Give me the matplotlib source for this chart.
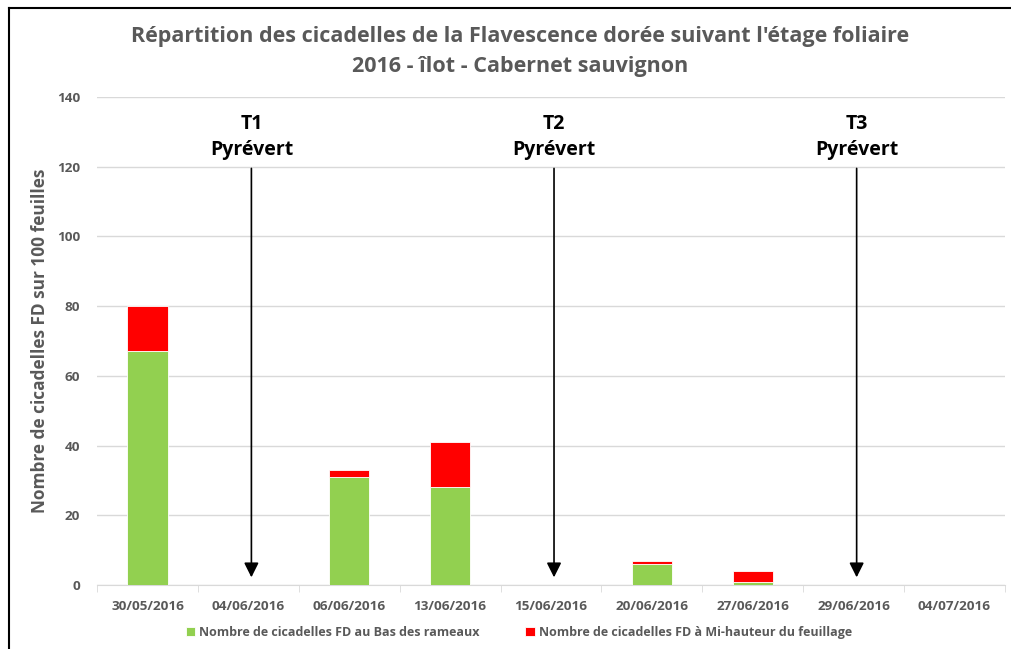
import matplotlib
matplotlib.use('Agg')
import matplotlib.pyplot as plt
import numpy as np
from matplotlib.lines import Line2D

plt.rcParams['font.family'] = ['Open Sans', 'DejaVu Sans']

dates = ['30/05/2016', '04/06/2016', '06/06/2016', '13/06/2016', '15/06/2016',
         '20/06/2016', '27/06/2016', '29/06/2016', '04/07/2016']
bas = [67, 0, 31, 28, 0, 6, 1, 0, 0]
mi_hauteur = [13, 0, 2, 13, 0, 1, 3, 0, 0]
treatments = ['T1\nPyrévert', 'T2\nPyrévert', 'T3\nPyrévert']
treat_idx = [1, 4, 7]

gray = '#595959'
green = '#92d050'
red = '#ff0000'

fig = plt.figure(figsize=(10.11, 6.49), dpi=100)
ax = fig.add_axes([0.096, 0.0986, 0.898, 0.752])

x = np.arange(len(dates))
ax.bar(x, bas, width=0.4, color=green, edgecolor='white', linewidth=0.6,
       label='Nombre de cicadelles FD au Bas des rameaux', zorder=3)
ax.bar(x, mi_hauteur, width=0.4, bottom=bas, color=red, edgecolor='white', linewidth=0.6,
       label='Nombre de cicadelles FD à Mi-hauteur du feuillage', zorder=3)

for i, t in zip(treat_idx, treatments):
    ax.annotate('', xy=(i + 0.03, 2.2), xytext=(i + 0.03, 119.5),
                arrowprops=dict(arrowstyle='-|>', color='black', lw=1.2,
                                mutation_scale=22, shrinkA=0, shrinkB=0), zorder=4)
    ax.text(i + 0.03, 128.5, t, ha='center', va='center', fontsize=14,
            fontweight='bold', color='black', linespacing=1.4)

ax.set_xlim(-0.5, len(dates) - 0.5)
ax.set_ylim(0, 140)
ax.set_yticks(range(0, 141, 20))
ax.set_xticks(x)
ax.set_xticklabels(dates)
ax.set_xticks(np.arange(-0.5, len(dates), 1), minor=True)
ax.tick_params(axis='x', which='major', length=0, pad=11, labelsize=9.7, labelcolor=gray)
ax.tick_params(axis='x', which='minor', length=5, color='#d9d9d9')
ax.tick_params(axis='y', length=0, pad=12, labelsize=9.7, labelcolor=gray)
for lab in ax.get_xticklabels() + ax.get_yticklabels():
    lab.set_fontweight('bold')

ax.grid(axis='y', color='#d9d9d9', lw=1, zorder=0)
for s in ['top', 'right', 'left']:
    ax.spines[s].set_visible(False)
ax.spines['bottom'].set_color('#d9d9d9')

ax.set_ylabel('Nombre de cicadelles FD sur 100 feuilles', fontsize=12.4,
              fontweight='bold', color=gray, labelpad=6)

fig.suptitle("Répartition des cicadelles de la Flavescence dorée suivant l'étage foliaire\n"
             "2016 - îlot - Cabernet sauvignon", x=0.514, y=0.96, fontsize=15.5,
             fontweight='bold', color=gray, linespacing=1.55)

leg = fig.legend(loc='center', bbox_to_anchor=(0.513, 0.026), ncol=2, frameon=False,
                 fontsize=9, handlelength=0.75, handleheight=0.75, handletextpad=0.3,
                 columnspacing=3.7)
for t in leg.get_texts():
    t.set_color(gray)
    t.set_fontweight('bold')

# outer frame: only the top and left edges are visible
fig.lines.append(Line2D([9 / 1011, 9 / 1011], [0, 1 - 8 / 649], transform=fig.transFigure,
                        color='black', lw=1.5))
fig.lines.append(Line2D([9 / 1011, 1], [1 - 8 / 649, 1 - 8 / 649], transform=fig.transFigure,
                        color='black', lw=1.5))

fig.savefig('out.png', dpi=100)
